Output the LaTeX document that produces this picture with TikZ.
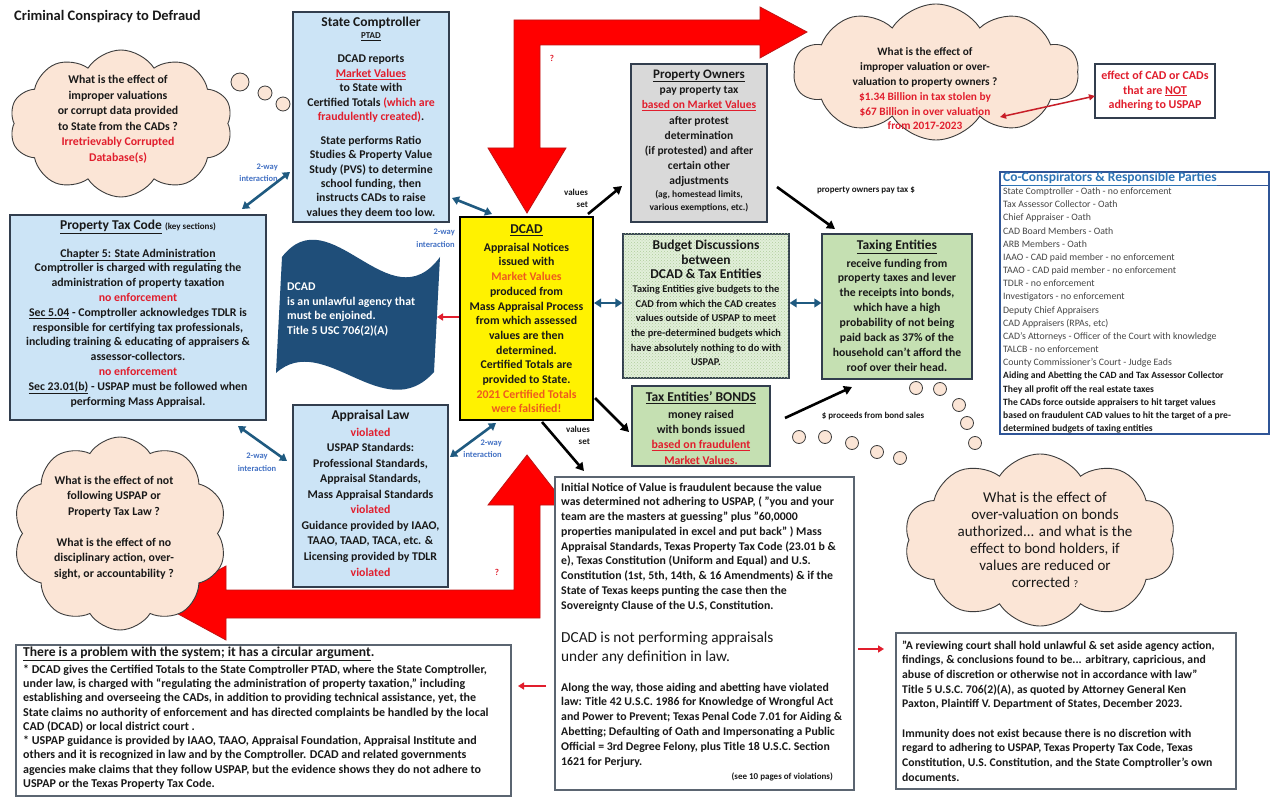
\documentclass[tikz,border=0pt]{standalone}
\usepackage{fontspec}
\setmainfont{Carlito}
\usetikzlibrary{shapes.symbols,arrows.meta,patterns,fit}
\definecolor{peach}{RGB}{251,229,214}
\definecolor{cloudline}{RGB}{60,60,60}
\definecolor{lblue}{RGB}{204,228,246}
\definecolor{boxline}{RGB}{50,62,78}
\definecolor{tealc}{RGB}{31,90,128}
\definecolor{lbltxt}{RGB}{68,114,196}
\definecolor{flagc}{RGB}{31,78,121}
\definecolor{tred}{RGB}{225,30,45}
\definecolor{tora}{RGB}{238,90,30}
\definecolor{grayfill}{RGB}{217,217,217}
\definecolor{gfillA}{RGB}{226,239,218}
\definecolor{gfillB}{RGB}{197,224,178}
\definecolor{gdots}{RGB}{175,205,155}
\definecolor{ccblue}{RGB}{46,117,182}
\definecolor{ccline}{RGB}{47,85,151}
\definecolor{txtc}{RGB}{25,25,25}
\definecolor{cctxt}{RGB}{70,70,70}
\definecolor{bigred}{RGB}{255,0,0}
\definecolor{bigredline}{RGB}{190,20,20}
\definecolor{darkred}{RGB}{200,30,40}
\begin{document}
\begin{tikzpicture}[x=1pt,y=-1pt,
 boxn/.style={draw=boxline,line width=1.1pt,inner sep=0pt},
 tb/.style={font=\bfseries\fontsize{11.8}{14.7}\selectfont,align=center,inner sep=0pt,text=txtc},
 ttl/.style={font=\bfseries\fontsize{13.5}{15}\selectfont,align=center,inner sep=0pt,text=txtc},
 lbl/.style={font=\bfseries\fontsize{8.5}{12.5}\selectfont,inner sep=0pt,text=lbltxt},
 smb/.style={font=\bfseries\fontsize{9}{12.5}\selectfont,align=right,inner sep=0pt,text=txtc},
 cloudn/.style={cloud,cloud puffs=10,cloud puff arc=115,cloud ignores aspect,draw=cloudline,line width=0.9pt,fill=peach,inner sep=0pt},
 bub/.style={circle,draw=cloudline,line width=0.8pt,fill=peach,inner sep=0pt},
 twoway/.style={draw=tealc,line width=2.6pt,{Triangle[length=7pt,width=8.5pt]}-{Triangle[length=7pt,width=8.5pt]}},
 blk/.style={draw=black,line width=2.6pt,-{Triangle[length=8pt,width=9pt]}},
 redar/.style={draw=tred,line width=2pt,-{Triangle[length=6pt,width=7pt]}},
 bigarrow/.style={fill=bigred,draw=bigredline,line width=0.8pt,line join=miter}
]
\useasboundingbox[fill=white] (0,0) rectangle (1280,805);

% ---------- big red bent arrows ----------
\path[bigarrow] (527,213) -- (566,148) -- (540,148) -- (540,45) -- (760,45) -- (760,58) -- (807,32) -- (760,7) -- (760,20) -- (514,20) -- (514,148) -- (488,148) -- cycle;
\path[bigarrow] (527,455) -- (566,505) -- (540,505) -- (540,618) -- (226,618) -- (226,640) -- (158,603) -- (226,566) -- (226,590) -- (514,590) -- (514,505) -- (488,505) -- cycle;
\node[font=\bfseries\fontsize{9}{10}\selectfont,text=tred,inner sep=0pt] (q1) at (552,58) {?};
\node[font=\bfseries\fontsize{9}{10}\selectfont,text=tred,inner sep=0pt] (q2) at (497,572) {?};

% ---------- title ----------
\node[anchor=west,font=\bfseries\fontsize{14.5}{16}\selectfont,inner sep=0pt,text=txtc] (title) at (14,17) {Criminal Conspiracy to Defraud};

% ---------- cloud 1 ----------
\node[cloudn,minimum width=223pt,minimum height=147pt] (cl1) at (121,123.5) {};
\node[tb,font=\bfseries\fontsize{11.8}{15.5}\selectfont] (cl1t) at (118,119) {What is the effect of\\improper valuations\\or corrupt data provided\\to State from the CADs ?\\\textcolor{tred}{Irretrievably Corrupted}\\\textcolor{tred}{Database(s)}};
\node[bub,minimum size=18pt] (b11) at (240,82) {};
\node[bub,minimum size=14pt] (b12) at (265,93) {};
\node[bub,minimum size=14pt] (b13) at (283,104) {};

% ---------- State Comptroller ----------
\node[boxn,fill=lblue,fit={(293,12) (449,222)}] (comp) {};
\node[ttl] (compt) at (371,23) {State Comptroller};
\node[tb,font=\bfseries\fontsize{9}{10}\selectfont] (compp) at (371,37) {\underline{PTAD}};
\node[tb,font=\bfseries\fontsize{11.8}{14.5}\selectfont] (compa) at (371,89) {DCAD reports\\\textcolor{tred}{\underline{Market Values}}\\to State with\\Certified Totals \textcolor{tred}{(which are}\\\textcolor{tred}{fraudulently created)}.};
\node[tb,font=\bfseries\fontsize{11.8}{14.4}\selectfont] (compb) at (371,177) {State performs Ratio\\Studies \& Property Value\\Study (PVS) to determine\\school funding, then\\instructs CADs to raise\\values they deem too low.};

% ---------- Property Tax Code ----------
\node[boxn,fill=lblue,fit={(10,215) (266,420)}] (ptc) {};
\node[ttl] (ptct) at (138,227) {\underline{Property Tax Code} {\fontsize{9}{10}\selectfont(key sections)}};
\node[tb,font=\bfseries\fontsize{11.8}{14.8}\selectfont] (ptcb) at (138,328) {\underline{Chapter 5: State Administration}\\Comptroller is charged with regulating the\\administration of property taxation\\\textcolor{tred}{no enforcement}\\\underline{Sec 5.04} - Comptroller acknowledges TDLR is\\responsible for certifying tax professionals,\\including training \& educating of appraisers \&\\assessor-collectors.\\\textcolor{tred}{no enforcement}\\\underline{Sec 23.01(b)} - USPAP must be followed when\\performing Mass Appraisal.};

% ---------- flag ----------
\fill[flagc] (282,257) .. controls (330,195) and (390,325) .. (440,257) -- (434,372) .. controls (384,428) and (324,330) .. (276,373) -- cycle;
\node[anchor=west,align=left,font=\bfseries\fontsize{11.8}{14.9}\selectfont,text=white,inner sep=0pt] (flagt) at (287,309.5) {DCAD\\is an unlawful agency that\\must be enjoined.\\Title 5 USC 706(2)(A)};

% ---------- DCAD ----------
\node[draw=black,line width=2pt,fill=yellow,inner sep=0pt,fit={(460,217) (593,420)}] (dcad) {};
\node[ttl] (dcadt) at (526.5,230) {\underline{DCAD}};
\node[tb] (dcadb) at (526.5,328) {Appraisal Notices\\issued with\\\textcolor{tora}{Market Values}\\produced from\\Mass Appraisal Process\\from which assessed\\values are then\\determined.\\Certified Totals are\\provided to State.\\\textcolor{tora}{2021 Certified Totals}\\\textcolor{tora}{were falsified!}};

% ---------- Appraisal Law ----------
\node[boxn,fill=lblue,fit={(293,405) (448,587)}] (alaw) {};
\node[ttl] (alawt) at (370.5,416) {Appraisal Law};
\node[tb,font=\bfseries\fontsize{11.8}{15.55}\selectfont] (alawb) at (370.5,502) {\textcolor{tred}{violated}\\USPAP Standards:\\Professional Standards,\\Appraisal Standards,\\Mass Appraisal Standards\\\textcolor{tred}{violated}\\Guidance provided by IAAO,\\TAAO, TAAD, TACA, etc. \&\\Licensing provided by TDLR\\\textcolor{tred}{violated}};

% ---------- cloud bottom-left ----------
\node[cloudn,minimum width=214pt,minimum height=193pt] (cl4) at (120,533.5) {};
\node[tb,font=\bfseries\fontsize{11.8}{15.5}\selectfont] (cl4t) at (114,527.5) {What is the effect of not\\following USPAP or\\Property Tax Law ?\\[15.5pt]What is the effect of no\\disciplinary action, over-\\sight, or accountability ?};

% ---------- Property Owners ----------
\node[boxn,fill=grayfill,fit={(631,64) (767,222)}] (own) {};
\node[ttl,font=\bfseries\fontsize{13}{15}\selectfont] (ownt) at (699,76) {\underline{Property Owners}};
\node[tb,font=\bfseries\fontsize{11.5}{15.1}\selectfont] (ownb) at (699,136.5) {pay property tax\\\textcolor{tred}{\underline{based on Market Values}}\\after protest\\determination\\(if protested) and after\\certain other\\adjustments};
\node[tb,font=\bfseries\fontsize{9.5}{13}\selectfont] (ownc) at (699,201.5) {(ag, homestead limits,\\various exemptions, etc.)};

% ---------- cloud 2 ----------
\node[cloudn,minimum width=285pt,minimum height=136pt] (cl2) at (936,72) {};
\node[tb,font=\bfseries\fontsize{11.3}{14.8}\selectfont] (cl2t) at (925,89) {What is the effect of\\improper valuation or over-\\valuation to property owners ?\\\textcolor{tred}{\$1.34 Billion in tax stolen by}\\\textcolor{tred}{\$67 Billion in over valuation}\\\textcolor{tred}{from 2017-2023}};
\node[boxn,fill=white,fit={(1095,64) (1215,118)}] (eff) {};
\node[tb,font=\bfseries\fontsize{12}{14.5}\selectfont,text=tred] (efft) at (1155,91) {effect of CAD or CADs\\that are \underline{NOT}\\adhering to USPAP};

% ---------- Budget ----------
\node[boxn,fill=gfillA,postaction={pattern=crosshatch dots,pattern color=gdots},fit={(623,234) (789,378)}] (bud) {};
\node[ttl,font=\bfseries\fontsize{13.5}{14.5}\selectfont] (budt) at (706,259.5) {Budget Discussions\\between\\DCAD \& Tax Entities};
\node[tb,font=\bfseries\fontsize{10.4}{14.6}\selectfont] (budb) at (706,325.5) {Taxing Entities give budgets to the\\CAD from which the CAD creates\\values outside of USPAP to meet\\the pre-determined budgets which\\have absolutely nothing to do with\\USPAP.};

% ---------- Taxing Entities ----------
\node[boxn,fill=gfillB,fit={(822,234) (972,379)}] (tax) {};
\node[ttl] (taxt) at (897,247) {\underline{Taxing Entities}};
\node[tb,font=\bfseries\fontsize{11.7}{14.85}\selectfont] (taxb) at (897,315) {receive funding from\\property taxes and lever\\the receipts into bonds,\\which have a high\\probability of not being\\paid back as 37\% of the\\household can't afford the\\roof over their head.};

% ---------- Bonds ----------
\node[boxn,fill=gfillB,fit={(632,386) (770,466)}] (bond) {};
\node[ttl] (bondt) at (701,398) {\underline{Tax Entities' BONDS}};
\node[tb,font=\bfseries\fontsize{11.8}{15.3}\selectfont] (bondb) at (701,437) {money raised\\with bonds issued\\\textcolor{tred}{\underline{based on fraudulent}}\\\textcolor{tred}{Market Values.}};

% ---------- Co-conspirators ----------
\node[draw=ccline,line width=1.2pt,fill=white,inner sep=0pt,fit={(1000,172) (1269,434)}] (cc) {};
\draw[ccline,line width=0.8pt] (cc.west |- 0,185) -- (cc.east |- 0,185);
\node[anchor=west,font=\bfseries\fontsize{13.5}{15}\selectfont,text=ccblue,inner sep=0pt] (cct) at (1003,179) {\underline{Co-Conspirators \& Responsible Parties}};
\node[anchor=west,align=left,font=\fontsize{9.8}{13.17}\selectfont,text=cctxt,inner sep=0pt] (ccb) at (1003,310.5) {State Comptroller - Oath - no enforcement\\Tax Assessor Collector - Oath\\Chief Appraiser - Oath\\CAD Board Members - Oath\\ARB Members - Oath\\IAAO - CAD paid member - no enforcement\\TAAO - CAD paid member - no enforcement\\TDLR - no enforcement\\Investigators - no enforcement\\Deputy Chief Appraisers\\CAD Appraisers (RPAs, etc)\\CAD's Attorneys - Officer of the Court with knowledge\\TALCB - no enforcement\\County Commissioner's Court - Judge Eads\\\textcolor{txtc}{\bfseries\fontsize{9.6}{13.17}\selectfont Aiding and Abetting the CAD and Tax Assessor Collector}\\\textcolor{txtc}{\bfseries\fontsize{9.6}{13.17}\selectfont They all profit off the real estate taxes}\\\textcolor{txtc}{\bfseries\fontsize{9.6}{13.17}\selectfont The CADs force outside appraisers to hit target values}\\\textcolor{txtc}{\bfseries\fontsize{9.6}{13.17}\selectfont based on fraudulent CAD values to hit the target of a pre-}\\\textcolor{txtc}{\bfseries\fontsize{9.6}{13.17}\selectfont determined budgets of taxing entities}};

% ---------- cloud 3 ----------
\node[bub,minimum size=13pt] (b31) at (916,388) {};
\node[bub,minimum size=13pt] (b32) at (940,389) {};
\node[bub,minimum size=13pt] (b33) at (959,405) {};
\node[bub,minimum size=13pt] (b34) at (967,423) {};
\node[bub,minimum size=13pt] (b35) at (975,443) {};
\node[bub,minimum size=13pt] (b36) at (799,437) {};
\node[bub,minimum size=13pt] (b37) at (825,437) {};
\node[bub,minimum size=13pt] (b38) at (852,443) {};
\node[bub,minimum size=13pt] (b39) at (877,452) {};
\node[bub,minimum size=13pt] (b310) at (900,458) {};
\node[cloudn,minimum width=272pt,minimum height=172pt] (cl3) at (1040,540) {};
\node[tb,font=\fontsize{15}{17}\selectfont] (cl3t) at (1045,540) {What is the effect of\\over-valuation on bonds\\authorized... and what is the\\effect to bond holders, if\\values are reduced or\\corrected {\fontsize{10}{10}\selectfont ?}};

% ---------- Initial notice ----------
\node[boxn,draw=boxline!80,fill=white,fit={(555,477) (854,790)}] (inv) {};
\node[anchor=west,align=left,font=\bfseries\fontsize{11.8}{14.75}\selectfont,text=txtc,inner sep=0pt] (inva) at (561,547) {Initial Notice of Value is fraudulent because the value\\was determined not adhering to USPAP, ( "you and your\\team are the masters at guessing" plus "60,0000\\properties manipulated in excel and put back" ) Mass\\Appraisal Standards, Texas Property Tax Code (23.01 b \&\\e), Texas Constitution (Uniform and Equal) and U.S.\\Constitution (1st, 5th, 14th, \& 16 Amendments) \& if the\\State of Texas keeps punting the case then the\\Sovereignty Clause of the U.S, Constitution.};
\node[anchor=west,align=left,font=\fontsize{15.3}{19}\selectfont,text=txtc,inner sep=0pt] (invb) at (561,647.5) {DCAD is not performing appraisals\\under any definition in law.};
\node[anchor=west,align=left,font=\bfseries\fontsize{11.8}{14.8}\selectfont,text=txtc,inner sep=0pt] (invc) at (561,725) {Along the way, those aiding and abetting have violated\\law: Title 42 U.S.C. 1986 for Knowledge of Wrongful Act\\and Power to Prevent; Texas Penal Code 7.01 for Aiding \&\\Abetting; Defaulting of Oath and Impersonating a Public\\Official = 3rd Degree Felony, plus Title 18 U.S.C. Section\\1621 for Perjury.};
\node[anchor=east,font=\bfseries\fontsize{9}{10}\selectfont,text=txtc,inner sep=0pt] (invd) at (833,777) {(see 10 pages of violations)};

% ---------- bottom-left ----------
\node[boxn,draw=boxline!80,fill=white,fit={(16,645) (511,796)}] (circ) {};
\node[anchor=west,font=\bfseries\fontsize{13.6}{14}\selectfont,text=txtc,inner sep=0pt] (circt) at (23,654) {\underline{There is a problem with the system; it has a circular argument}.};
\node[anchor=west,align=left,font=\bfseries\fontsize{12}{14.3}\selectfont,text=txtc,inner sep=0pt] (circb) at (23,727) {* DCAD gives the Certified Totals to the State Comptroller PTAD, where the State Comptroller,\\under law, is charged with “regulating the administration of property taxation,” including\\establishing and overseeing the CADs, in addition to providing technical assistance, yet, the\\State claims no authority of enforcement and has directed complaints be handled by the local\\CAD (DCAD) or local district court .\\* USPAP guidance is provided by IAAO, TAAO, Appraisal Foundation, Appraisal Institute and\\others and it is recognized in law and by the Comptroller. DCAD and related governments\\agencies make claims that they follow USPAP, but the evidence shows they do not adhere to\\USPAP or the Texas Property Tax Code.};

% ---------- bottom-right ----------
\node[boxn,draw=boxline!80,fill=white,fit={(896,633) (1236,789)}] (court) {};
\node[anchor=west,align=left,font=\bfseries\fontsize{11.7}{14.67}\selectfont,text=txtc,inner sep=0pt] (courtb) at (902,711) {"A reviewing court shall hold unlawful \& set aside agency action,\\findings, \& conclusions found to be... arbitrary, capricious, and\\abuse of discretion or otherwise not in accordance with law"\\Title 5 U.S.C. 706(2)(A), as quoted by Attorney General Ken\\Paxton, Plaintiff V. Department of States, December 2023.\\[14.67pt]Immunity does not exist because there is no discretion with\\regard to adhering to USPAP, Texas Property Tax Code, Texas\\Constitution, U.S. Constitution, and the State Comptroller's own\\documents.};

% ---------- connectors ----------
\coordinate (t1a) at (242,209); \coordinate (t1b) at (290,172);
\coordinate (t2a) at (452,198); \coordinate (t2b) at (492,214);
\coordinate (t3a) at (238,426); \coordinate (t3b) at (287,461);
\coordinate (t4a) at (450,457); \coordinate (t4b) at (496,423);
\draw[twoway] (t1a) -- (t1b);
\draw[twoway] (t2a) -- (t2b);
\draw[twoway] (t3a) -- (t3b);
\draw[twoway] (t4a) -- (t4b);
\draw[twoway] (dcad.east |- 0,303) -- (bud.west |- 0,303);
\draw[twoway] (bud.east |- 0,303) -- (tax.west |- 0,303);
\node[lbl,anchor=east,align=right] (l1) at (278,172.5) {2-way\\interaction};
\node[lbl,anchor=east,align=right] (l2) at (455,238) {2-way\\interaction};
\node[lbl,align=center] (l3) at (257,462) {2-way\\interaction};
\node[lbl,anchor=east,align=right] (l4) at (502,448.5) {2-way\\interaction};

\coordinate (k1a) at (588,214); \coordinate (k1b) at (622,186);
\coordinate (k2a) at (777,187); \coordinate (k2b) at (835,229);
\coordinate (k3a) at (595,398); \coordinate (k3b) at (629,432);
\coordinate (k4a) at (542,422); \coordinate (k4b) at (584,471);
\coordinate (k5a) at (785,418); \coordinate (k5b) at (852,387);
\draw[blk] (k1a) -- (k1b);
\draw[blk] (k2a) -- (k2b);
\draw[blk] (k3a) -- (k3b);
\draw[blk] (k4a) -- (k4b);
\draw[blk] (k5a) -- (k5b);
\node[smb] (vs1) at (576,198.5) {values\\set};
\node[smb] (vs2) at (578,435.5) {values\\set};
\node[smb] (ptx) at (866,190) {property owners pay tax \$};
\node[smb] (pbs) at (873,416) {\$ proceeds from bond sales};

\coordinate (r1a) at (459,317); \coordinate (r1b) at (437,317);
\draw[redar] (r1a) -- (r1b);
\coordinate (r2a) at (1000,117); \coordinate (r2b) at (1095,96);
\draw[draw=darkred,line width=1.5pt,{Triangle[length=6pt,width=6pt]}-{Triangle[length=6pt,width=6pt]}] (r2a) -- (r2b);
\coordinate (r3a) at (858,649); \coordinate (r3b) at (884,649);
\draw[redar,line width=1.5pt] (r3a) -- (r3b);
\coordinate (r4a) at (546,686); \coordinate (r4b) at (518,686);
\draw[redar,line width=1.5pt] (r4a) -- (r4b);
\end{tikzpicture}
\end{document}
